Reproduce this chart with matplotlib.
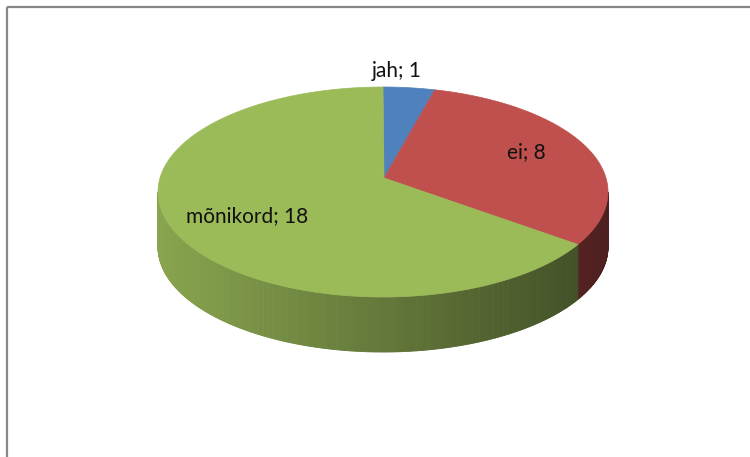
import numpy as np
import matplotlib.pyplot as plt
from matplotlib.collections import PolyCollection
from matplotlib.patches import Polygon, Rectangle
from matplotlib.colors import to_rgb

# data
labels = ["jah", "ei", "mõnikord"]
values = [1, 8, 18]
colors = ["#4f81bd", "#c0504d", "#9bbb59"]
label_pos = [(397, 71), (526, 152), (247, 216)]

# pie geometry in pixel units
cx, cy = 383, 192
rx, ry = 225, 105
apex = (384, 178)
depth = 55


def rim(theta):
    t = np.radians(theta)
    return cx + rx * np.sin(t), cy - ry * np.cos(t)


def shade(color, x):
    # side gets darker from left to right
    f = 0.88 - 0.48 * (x - (cx - rx)) / (2 * rx)
    return tuple(c * f for c in to_rgb(color))


fig = plt.figure(figsize=(7.5, 4.57), dpi=100)
ax = fig.add_axes([0, 0, 1, 1])
ax.set_xlim(0, 750)
ax.set_ylim(457, 0)
ax.axis("off")

# chart border (clipped at the right and bottom like the original)
ax.add_patch(Rectangle((6.5, 6.5), 800, 500, fill=False, ec="#888888", lw=1.6))

total = sum(values)
bounds = np.concatenate([[0], np.cumsum(values) / total * 360])

# side wall
quads, qcols = [], []
for i, col in enumerate(colors):
    a, b = max(bounds[i], 90), min(bounds[i + 1], 270)
    if a >= b:
        continue
    ts = np.arange(a, b, 0.5).tolist() + [b]
    for t0, t1 in zip(ts[:-1], ts[1:]):
        x0, y0 = rim(t0)
        x1, y1 = rim(t1)
        quads.append([(x0, y0), (x1, y1), (x1, y1 + depth), (x0, y0 + depth)])
        qcols.append(shade(col, (x0 + x1) / 2))
ax.add_collection(PolyCollection(quads, facecolors=qcols, edgecolors=qcols, lw=0.6))

# top face
for i, col in enumerate(colors):
    ts = np.linspace(bounds[i], bounds[i + 1], 200)
    pts = [apex] + [rim(t) for t in ts]
    ax.add_patch(Polygon(pts, closed=True, fc=col, ec=col, lw=0.5))

for lab, v, (x, y) in zip(labels, values, label_pos):
    ax.text(x, y, f"{lab}; {v}", ha="center", va="center", fontsize=15,
            family="Lato", color="#111111")

fig.savefig("out.png", dpi=100)
